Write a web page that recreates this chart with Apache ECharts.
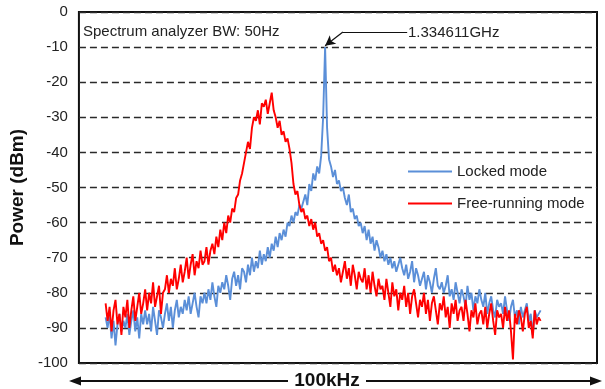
<!DOCTYPE html>
<html>
<head>
<meta charset="utf-8">
<script src="https://cdn.jsdelivr.net/npm/echarts@6/dist/echarts.min.js"></script>
<style>
  html, body { margin: 0; padding: 0; background: #fff; }
  #chart { width: 605px; height: 389px; }
</style>
</head>
<body>
<div id="chart"></div>
<script>
// y axis ticks (dBm)
const yTicks = [0, -10, -20, -30, -40, -50, -60, -70, -80, -90, -100];

// sweep samples left to right (dBm)
const lockedMode = [
  -87, -90, -86, -93, -88, -95, -89, -86, -91, -88,
  -90, -86, -92, -88, -85, -91, -87, -93, -86, -89,
  -85, -89, -86, -91, -84, -88, -92, -85, -87, -90,
  -86, -83, -88, -84, -90, -85, -82, -87, -84, -86,
  -82, -85, -81, -86, -83, -80, -84, -87, -81, -83,
  -80, -83, -79, -82, -77, -81, -84, -78, -80, -77,
  -79, -75, -78, -82, -76, -74, -78, -75, -79, -73,
  -74, -77, -72, -75, -70, -74, -71, -73, -68, -72,
  -69, -71, -67, -70, -66, -68, -64, -67, -63, -65,
  -62, -64, -60, -61, -58, -60, -57, -58, -55, -56,
  -54, -52, -55, -49, -51, -46, -48, -44, -46, -41,
  -30, -10, -33, -42, -44, -47, -45, -49, -48, -51,
  -50, -53, -55, -52, -57, -56, -59, -58, -61, -60,
  -63, -61, -65, -62, -66, -64, -68, -65, -67, -70,
  -68, -71, -69, -72, -70, -73, -71, -74, -72, -70,
  -73, -75, -72, -76, -74, -71, -77, -73, -75, -78,
  -76, -74, -79, -75, -77, -80, -76, -73, -78, -79,
  -77, -80, -78, -75, -81, -79, -82, -77, -80, -83,
  -79, -81, -84, -78, -82, -80, -85, -81, -83, -79,
  -82, -84, -80, -86, -83, -81, -85, -87, -82, -84,
  -83, -86, -81, -85, -88, -84, -82, -87, -85, -89,
  -84, -87, -85, -83, -88, -86, -92, -85, -87, -86,
  -85
];

const freeRunningMode = [
  -83, -88, -84, -91, -85, -82, -89, -86, -92, -84,
  -87, -82, -90, -85, -81, -88, -84, -80, -86, -83,
  -79, -85, -80, -83, -77, -84, -81, -78, -86, -80,
  -79, -75, -80, -76, -78, -73, -79, -76, -72, -77,
  -74, -70, -76, -72, -69, -75, -71, -73, -68, -72,
  -71, -67, -72, -68, -66, -69, -64, -67, -62, -65,
  -60, -63, -58, -60, -56, -57, -53, -52, -48, -46,
  -43, -40, -37, -39, -33, -30, -31, -28, -32, -26,
  -27, -25, -29, -26, -23, -28, -30, -33, -31, -35,
  -34, -37, -36, -39, -43, -49, -52, -51, -55, -57,
  -56, -59, -58, -61, -59, -62, -60, -64, -63, -66,
  -65, -68, -67, -71, -70, -74, -72, -75, -73, -77,
  -74, -71, -76, -73, -78, -72, -75, -79, -74, -76,
  -77, -73, -79, -75, -80, -74, -78, -81, -76, -79,
  -78, -82, -76, -80, -84, -77, -81, -79, -85, -80,
  -82, -78, -84, -80, -86, -81, -79, -83, -87, -82,
  -84, -80, -86, -82, -88, -83, -81, -85, -89, -83,
  -85, -81, -87, -84, -90, -83, -86, -82, -88, -85,
  -84, -88, -82, -86, -91, -85, -87, -83, -89, -86,
  -85, -89, -84, -90, -86, -83, -88, -92, -85, -87,
  -86, -90, -84, -88, -85, -91, -99, -86, -89, -85,
  -87, -91, -86, -84, -90, -88, -93, -85, -89, -87,
  -88
];

const seriesNames = ['Locked mode', 'Free-running mode'];
const peakLabel = '1.334611GHz';
const noteLabel = 'Spectrum analyzer BW: 50Hz';
const spanLabel = '100kHz';

const FONT = 'Liberation Sans, Arial, sans-serif';

const chart = echarts.init(document.getElementById('chart'), null, { renderer: 'canvas' });

// 峰值位置（用于箭头标注）
const peakIdx = lockedMode.indexOf(Math.max(...lockedMode));
const peakVal = lockedMode[peakIdx];

const toPoints = (arr) => arr.map((v, i) => [i, v]);

chart.setOption({
  animation: false,
  backgroundColor: '#fff',
  textStyle: { fontFamily: FONT },
  grid: {
    left: 73, right: 8, top: 12, bottom: 26,
    show: true, borderColor: '#111', borderWidth: 2
  },
  xAxis: {
    type: 'value',
    min: -13.5,
    max: lockedMode.length - 1 + 28.5,
    show: false
  },
  yAxis: {
    type: 'value',
    min: yTicks[yTicks.length - 1],
    max: yTicks[0],
    interval: 10,
    name: 'Power (dBm)',
    nameLocation: 'middle',
    nameGap: 41,
    nameTextStyle: { fontSize: 19, fontWeight: 'bold', color: '#111', fontFamily: FONT },
    axisLine: { show: false },
    axisTick: { show: false },
    axisLabel: { fontSize: 15, color: '#222', margin: 11, fontFamily: FONT },
    splitLine: { lineStyle: { type: [7, 4], color: '#2a2a2a', width: 1.4 } }
  },
  legend: {
    orient: 'vertical',
    left: 403,
    top: 159,
    itemGap: 17,
    itemWidth: 44,
    itemHeight: 2,
    icon: 'rect',
    textStyle: { fontSize: 15, color: '#222', fontFamily: FONT },
    data: seriesNames
  },
  series: [
    {
      name: seriesNames[0],
      type: 'line',
      data: toPoints(lockedMode),
      symbol: 'none',
      color: '#5b8fd8',
      lineStyle: { width: 1.9, color: '#5b8fd8' },
      markLine: {
        silent: true,
        symbol: ['none', 'none'],
        label: { show: false },
        lineStyle: { type: 'solid', color: '#111', width: 1.2 },
        data: [
          [{ coord: [152.5, -5.7] }, { coord: [120, -5.7] }],
          [{ coord: [120, -5.7] }, { coord: [peakIdx, peakVal + 0.4], symbol: 'arrow', symbolSize: [8, 10] }]
        ]
      }
    },
    {
      name: seriesNames[1],
      type: 'line',
      data: toPoints(freeRunningMode),
      symbol: 'none',
      color: '#ff0000',
      lineStyle: { width: 1.9, color: '#ff0000' }
    }
  ],
  graphic: [
    {
      type: 'text', x: 83, y: 32,
      style: { text: noteLabel, font: '15px ' + FONT, fill: '#222', align: 'left', verticalAlign: 'middle' }
    },
    {
      type: 'text', x: 408, y: 33,
      style: { text: peakLabel, font: '15px ' + FONT, fill: '#222', align: 'left', verticalAlign: 'middle' }
    },
    {
      type: 'text', x: 327, y: 381,
      style: { text: spanLabel, font: 'bold 19px ' + FONT, fill: '#111', align: 'center', verticalAlign: 'middle' }
    },
    { type: 'line', shape: { x1: 74, y1: 381, x2: 288, y2: 381 }, style: { stroke: '#111', lineWidth: 2 } },
    { type: 'line', shape: { x1: 366, y1: 381, x2: 596, y2: 381 }, style: { stroke: '#111', lineWidth: 2 } },
    { type: 'polygon', shape: { points: [[69, 381], [81, 376.5], [81, 385.5]] }, style: { fill: '#111' } },
    { type: 'polygon', shape: { points: [[602, 381], [590, 376.5], [590, 385.5]] }, style: { fill: '#111' } }
  ]
});
</script>
</body>
</html>
